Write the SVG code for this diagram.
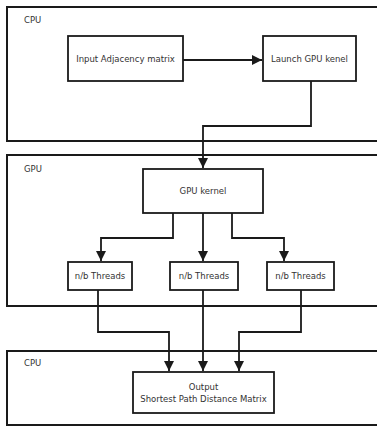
<svg xmlns="http://www.w3.org/2000/svg" width="377" height="428" viewBox="0 0 377 428">
<style>
.frame{fill:#fff;stroke:#1a1a1a;stroke-width:2}
.box{fill:#fff;stroke:#1a1a1a;stroke-width:1.8}
.lbl{font-family:"DejaVu Sans",sans-serif;font-size:8.5px;fill:#333}
.txt{font-family:"DejaVu Sans",sans-serif;font-size:8.5px;fill:#333;text-anchor:middle;dominant-baseline:central}
.edge{fill:none;stroke:#1a1a1a;stroke-width:1.8;marker-end:url(#ah)}
</style>
<defs>
<marker id="ah" markerWidth="12" markerHeight="12" refX="10" refY="5.5" orient="auto" markerUnits="userSpaceOnUse">
<path d="M0,0.5 L10,5.5 L0,10.5 Z" fill="#1a1a1a"/>
</marker>
</defs>
<g id="cpu-top"><rect class="frame" x="7" y="7" width="400" height="134"/><text class="lbl" x="24" y="23">CPU</text></g>
<g id="gpu"><rect class="frame" x="7" y="155" width="400" height="151"/><text class="lbl" x="24" y="172">GPU</text></g>
<g id="cpu-bottom"><rect class="frame" x="7" y="351" width="400" height="74"/><text class="lbl" x="24" y="366">CPU</text></g>
<g id="input"><rect class="box" x="68" y="36" width="115" height="45"/><text class="txt" x="125.5" y="59">Input Adjacency matrix</text></g>
<g id="launch"><rect class="box" x="263" y="36" width="93" height="45"/><text class="txt" x="309.5" y="59">Launch GPU kenel</text></g>
<g id="kernel"><rect class="box" x="143" y="169" width="120" height="44"/><text class="txt" x="203" y="191">GPU kernel</text></g>
<g id="t1"><rect class="box" x="68" y="262" width="64" height="28"/><text class="txt" x="100" y="276">n/b Threads</text></g>
<g id="t2"><rect class="box" x="170" y="262" width="68" height="28"/><text class="txt" x="204" y="276">n/b Threads</text></g>
<g id="t3"><rect class="box" x="267" y="262" width="67" height="28"/><text class="txt" x="300.5" y="276">n/b Threads</text></g>
<g id="output"><rect class="box" x="133" y="372" width="141" height="41"/><text class="txt" x="203.5" y="387">Output</text><text class="txt" x="203.5" y="399">Shortest Path Distance Matrix</text></g>
<g id="connectors">
<path class="edge" d="M183,60 H262"/>
<path class="edge" d="M311,81 V126 H203 V168"/>
<path class="edge" d="M173,213 V238 H101 V261"/>
<path class="edge" d="M203,213 V261"/>
<path class="edge" d="M232,213 V238 H284 V261"/>
<path class="edge" d="M98,290 V332 H169 V371"/>
<path class="edge" d="M203,290 V371"/>
<path class="edge" d="M301,290 V332 H239 V371"/>
</g>
</svg>
